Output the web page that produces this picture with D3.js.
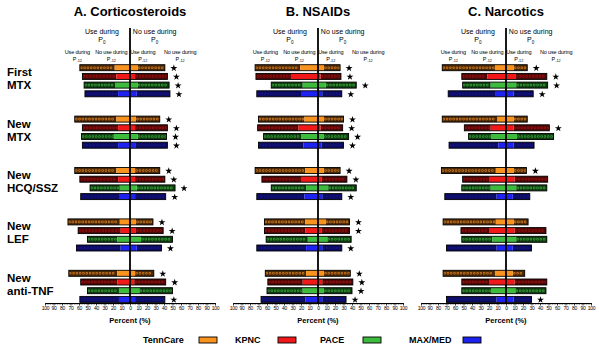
<!DOCTYPE html>
<html>
<head>
<meta charset="utf-8">
<script src="https://cdn.jsdelivr.net/npm/d3@7"></script>
<style>
  html, body { margin: 0; padding: 0; background: #fff; }
  svg { display: block; font-family: "Liberation Sans", Arial, sans-serif; }
</style>
</head>
<body>
<svg id="chart" width="600" height="351"></svg>
<script>
// ---------- data ----------
const panels = ["A. Corticosteroids", "B. NSAIDs", "C. Narcotics"];
const groups = ["First MTX", "New MTX", "New HCQ/SSZ", "New LEF", "New anti-TNF"];
const sources = ["TennCare", "KPNC", "PACE", "MAX/MED"];
const tickValues = [-100, -90, -80, -70, -60, -50, -40, -30, -20, -10, 0, 10, 20, 30, 40, 50, 60, 70, 80, 90, 100];

// each entry: [use during P0 (total %), of which no use during P-12 (%),
//              no use during P0 but use during P-12 (%), no use during P0 (total %)]
const corticosteroids = [
  [[59, 18, 9, 41], [56, 16, 6, 44], [54, 17, 9, 46], [53, 14, 8, 47]],
  [[65, 16, 7, 35], [56, 14, 6, 44], [57, 19, 9, 43], [56, 14, 7, 44]],
  [[65, 16, 6, 35], [59, 14, 6, 41], [47, 12, 8, 53], [58, 12, 6, 42]],
  [[73, 12, 7, 27], [61, 11, 7, 39], [50, 15, 13, 50], [63, 11, 8, 37]],
  [[72, 15, 6, 28], [58, 15, 5, 42], [50, 13, 11, 50], [59, 13, 6, 41]]
];
const nsaids = [
  [[74, 21, 7, 26], [73, 31, 3, 27], [55, 18, 9, 45], [72, 20, 5, 28]],
  [[70, 16, 7, 30], [71, 23, 3, 29], [64, 20, 7, 36], [70, 17, 4, 30]],
  [[74, 15, 7, 26], [66, 20, 4, 34], [55, 14, 12, 45], [72, 16, 5, 28]],
  [[63, 15, 9, 37], [63, 15, 4, 37], [61, 12, 11, 39], [72, 14, 5, 28]],
  [[62, 14, 7, 38], [59, 18, 5, 41], [60, 18, 7, 40], [67, 15, 5, 33]]
];
const narcotics = [
  [[75, 13, 9, 25], [52, 22, 11, 48], [51, 18, 12, 49], [68, 12, 9, 32]],
  [[75, 10, 9, 25], [49, 18, 9, 51], [44, 17, 13, 56], [67, 9, 9, 33]],
  [[76, 12, 9, 24], [51, 20, 10, 49], [52, 18, 12, 48], [72, 11, 8, 28]],
  [[74, 12, 9, 26], [53, 20, 10, 47], [52, 16, 12, 48], [70, 11, 8, 30]],
  [[74, 13, 8, 22], [52, 20, 10, 48], [52, 17, 11, 47], [70, 11, 9, 30]]
];
// significance markers (1 = asterisk shown)
const starsCorticosteroids = [[1,1,1,1],[1,1,1,1],[1,1,1,1],[1,1,0,1],[1,1,0,1]];
const starsNsaids          = [[1,1,1,1],[1,1,1,1],[1,1,0,1],[1,1,0,1],[1,1,1,1]];
const starsNarcotics       = [[1,1,1,1],[0,1,0,0],[1,0,0,0],[0,0,0,0],[0,0,0,1]];

const panelData = [corticosteroids, nsaids, narcotics];
const panelStars = [starsCorticosteroids, starsNsaids, starsNarcotics];

// ---------- styles ----------
const solid = { "TennCare": "#F7931E", "KPNC": "#F01818", "PACE": "#3DBB3D", "MAX/MED": "#1E22F0" };
const dark  = { "TennCare": "#4A2806", "KPNC": "#4E0606", "PACE": "#0E3C10", "MAX/MED": "#0B0B62" };
const dots  = { "TennCare": "#D07A20", "KPNC": "#9A1010", "PACE": "#38A038", "MAX/MED": "#15157E" };

const svg = d3.select("#chart");
const FONT = "'Liberation Sans', Arial, sans-serif";

const panelCenter = d3.scalePoint().domain(panels).range([130, 506]);
const yGroup = d3.scaleBand().domain(groups).range([67.7, 67.7 + 5 * 51.4]).padding(0);
const ySrc = d3.scalePoint().domain(sources).range([0, 26.1]);
const barH = 6;
const axisY = 303;
const starPath = d3.symbol(d3.symbolStar, 15)();

// row labels
groups.forEach(g => {
  const i = g.indexOf(" ");
  const lines = [g.slice(0, i), g.slice(i + 1)];
  const cy = yGroup(g) + 13;
  svg.append("text").attr("x", 7).attr("y", cy - 4.5)
    .attr("font-size", 11.5).attr("font-weight", "bold").attr("fill", "#000").text(lines[0]);
  svg.append("text").attr("x", 7).attr("y", cy + 8.5)
    .attr("font-size", 11.5).attr("font-weight", "bold").attr("fill", "#000").text(lines[1]);
});

panels.forEach((p, pi) => {
  const cx = panelCenter(p);
  const x = d3.scaleLinear().domain([-100, 100]).range([cx - 85, cx + 85]);
  const g = svg.append("g");

  // title
  g.append("text").attr("x", cx).attr("y", 16).attr("text-anchor", "middle")
    .attr("font-size", 13).attr("font-weight", "bold").text(p);

  // top headers
  const hdr = [["Use during", "0", x(-33), 7], ["No use during", "0", x(29), 7]];
  hdr.forEach(h => {
    g.append("text").attr("x", h[2]).attr("y", 34).attr("text-anchor", "middle")
      .attr("font-size", h[3]).text(h[0]);
    const t = g.append("text").attr("x", h[2]).attr("y", 42).attr("text-anchor", "middle")
      .attr("font-size", h[3]);
    t.append("tspan").text("P");
    t.append("tspan").attr("font-size", 4.5).attr("dy", 1.5).text(h[1]);
  });
  const sub = [["Use during", x(-62)], ["No use during", x(-22)], ["Use during", x(15)], ["No use during", x(59)]];
  sub.forEach(h => {
    g.append("text").attr("x", h[1]).attr("y", 54).attr("text-anchor", "middle")
      .attr("font-size", 5.5).attr("letter-spacing", -0.15).text(h[0]);
    const t = g.append("text").attr("x", h[1]).attr("y", 60.5).attr("text-anchor", "middle")
      .attr("font-size", 5.5);
    t.append("tspan").text("P");
    t.append("tspan").attr("font-size", 3.8).attr("dy", 1.3).text("-12");
  });

  // bars
  groups.forEach((gr, gi) => {
    sources.forEach((s, si) => {
      const [L, il, ir, R] = panelData[pi][gi][si];
      const cy = yGroup(gr) + ySrc(s);
      const y0 = cy - barH / 2;
      // outer (hatched) segments
      const outer = [[-L, -il], [ir, R]];
      outer.forEach(([a, b]) => {
        g.append("rect").attr("x", x(a)).attr("y", y0).attr("width", x(b) - x(a)).attr("height", barH)
          .attr("fill", dark[s]);
        g.append("line").attr("x1", x(a) + 1.5).attr("x2", x(b) - 1).attr("y1", cy).attr("y2", cy)
          .attr("stroke", dots[s]).attr("stroke-width", 2.6).attr("stroke-linecap", "round")
          .attr("stroke-dasharray", "0 3.3");
        g.append("line").attr("x1", x(a) + 1.5).attr("x2", x(b) - 1).attr("y1", cy).attr("y2", cy)
          .attr("stroke", dark[s]).attr("stroke-width", 1.1).attr("stroke-linecap", "round")
          .attr("stroke-dasharray", "0 3.3");
      });
      // inner (solid) segment
      g.append("rect").attr("x", x(-il)).attr("y", y0).attr("width", x(ir) - x(-il)).attr("height", barH)
        .attr("fill", solid[s]);
      // outline
      g.append("rect").attr("x", x(-L)).attr("y", y0).attr("width", x(R) - x(-L)).attr("height", barH)
        .attr("fill", "none").attr("stroke", "#000").attr("stroke-width", 0.9);
      if (panelStars[pi][gi][si]) {
        g.append("path").attr("d", starPath)
          .attr("transform", `translate(${x(R) + 9},${cy + 0.5})`)
          .attr("fill", "#000");
      }
    });
  });

  // center line
  g.append("line").attr("x1", x(0)).attr("x2", x(0)).attr("y1", 28).attr("y2", axisY)
    .attr("stroke", "#000").attr("stroke-width", 1.8);

  // axis
  const minor = g.append("g").attr("transform", `translate(0,${axisY})`)
    .call(d3.axisBottom(x).tickValues(d3.range(-100, 101, 2)).tickSize(1.6).tickSizeOuter(0).tickFormat(""));
  minor.select(".domain").remove();
  minor.selectAll("line").attr("stroke-width", 0.6);
  const ax = g.append("g").attr("transform", `translate(0,${axisY})`)
    .call(d3.axisBottom(x).tickValues(tickValues).tickSize(2.6).tickSizeOuter(0).tickPadding(1)
      .tickFormat(d => Math.abs(d)));
  ax.select(".domain").attr("stroke-width", 1);
  ax.selectAll("line").attr("stroke-width", 0.7);
  ax.selectAll("text").attr("font-size", 5).attr("font-family", FONT).attr("letter-spacing", -0.2);

  g.append("text").attr("x", cx).attr("y", 323).attr("text-anchor", "middle")
    .attr("font-size", 7.5).attr("font-weight", "bold").text("Percent (%)");
});

// legend
const swatchX = { "TennCare": 199, "KPNC": 278, "PACE": 363, "MAX/MED": 463 };
const legendTextX = { "TennCare": 143, "KPNC": 235, "PACE": 320, "MAX/MED": 409 };
sources.forEach(s => {
  svg.append("text").attr("x", legendTextX[s]).attr("y", 343).attr("font-size", 9).attr("font-weight", "bold").text(s);
  svg.append("rect").attr("x", swatchX[s]).attr("y", 337).attr("width", 18).attr("height", 6)
    .attr("fill", solid[s]).attr("stroke", "#000").attr("stroke-width", 0.9);
});
</script>
</body>
</html>
